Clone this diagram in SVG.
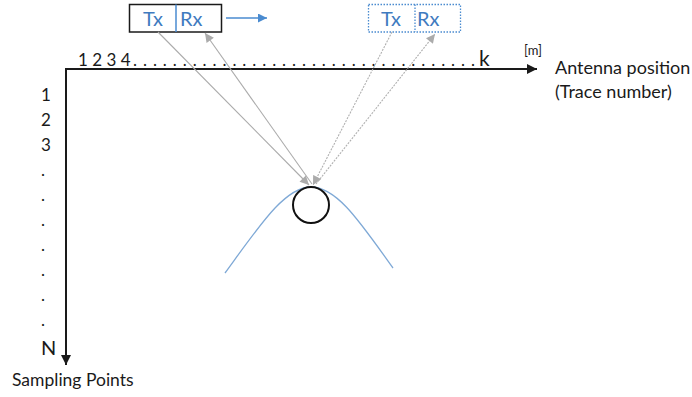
<svg xmlns="http://www.w3.org/2000/svg" width="692" height="397" viewBox="0 0 692 397">
  <style>
    text { font-family: Lato, "Open Sans", "Liberation Sans", sans-serif; fill: #1a1a1a; }
    .lbl { font-size: 17px; }
    .ant { font-size: 20px; fill: #3f7bbf; }
    .axis { stroke: #1a1a1a; stroke-width: 2; fill: none; }
    .ray { stroke: #ababab; stroke-width: 1.1; fill: none; }
    .ray2 { stroke: #b0b0b0; stroke-width: 1.1; fill: none; stroke-dasharray: 2 1.2; }
  </style>
  <defs>
    <marker id="headBlack" viewBox="0 0 10 10" refX="10" refY="5" markerWidth="10" markerHeight="10" markerUnits="userSpaceOnUse" orient="auto">
      <path d="M0,0 L10,5 L0,10 Z" fill="#1a1a1a"/>
    </marker>
    <marker id="headGray" viewBox="0 0 10 10" refX="10" refY="5" markerWidth="10" markerHeight="9" markerUnits="userSpaceOnUse" orient="auto">
      <path d="M0,0 L10,5 L0,10 Z" fill="#ababab"/>
    </marker>
    <marker id="headBlue" viewBox="0 0 10 10" refX="10" refY="5" markerWidth="10" markerHeight="9" markerUnits="userSpaceOnUse" orient="auto">
      <path d="M0,0 L10,5 L0,10 Z" fill="#4a8bd0"/>
    </marker>
  </defs>

  <!-- axes -->
  <g id="axes">
    <path class="axis" d="M66,69 H537" marker-end="url(#headBlack)"/>
    <path class="axis" d="M66,68 V365" marker-end="url(#headBlack)"/>
    <text class="lbl" x="78" y="66">1 2 3 4</text>
    <text class="lbl" x="133" y="66" textLength="342" lengthAdjust="spacing">...................................</text>
    <text x="479" y="66" style="font-size:21px">k</text>
    <text x="524" y="55" style="font-size:13px">[m]</text>
    <text x="555" y="74" style="font-size:18px">Antenna position</text>
    <text x="555" y="98" style="font-size:18px">(Trace number)</text>
    <g class="lbl">
      <text class="lbl" x="41" y="101">1</text>
      <text class="lbl" x="41" y="126">2</text>
      <text class="lbl" x="41" y="151">3</text>
      <text class="lbl" x="41" y="176">.</text>
      <text class="lbl" x="41" y="201">.</text>
      <text class="lbl" x="41" y="226">.</text>
      <text class="lbl" x="41" y="251">.</text>
      <text class="lbl" x="41" y="276">.</text>
      <text class="lbl" x="41" y="301">.</text>
      <text class="lbl" x="41" y="326">.</text>
    </g>
    <text x="41" y="355" style="font-size:20px">N</text>
    <text x="12" y="386" style="font-size:17.5px">Sampling Points</text>
  </g>

  <!-- antenna at first position -->
  <g id="antenna1">
    <rect x="129.5" y="4.5" width="92" height="27.5" fill="#fff" stroke="#1a1a1a" stroke-width="1.5"/>
    <line x1="176" y1="4.5" x2="176" y2="32" stroke="#4a8bd0" stroke-width="1.5"/>
    <text class="ant" x="143" y="26">Tx</text>
    <text class="ant" x="180" y="26">Rx</text>
  </g>

  <!-- antenna at later position -->
  <g id="antenna2">
    <rect x="368.5" y="4.5" width="92" height="27.5" fill="#fff" stroke="#4a8bd0" stroke-width="1.3" stroke-dasharray="1.5 1.5"/>
    <line x1="415" y1="4.5" x2="415" y2="32" stroke="#4a8bd0" stroke-width="1.3" stroke-dasharray="1.5 1.5"/>
    <text class="ant" x="381" y="26">Tx</text>
    <text class="ant" x="417" y="26">Rx</text>
  </g>

  <!-- buried target and its reflection hyperbola -->
  <g id="target">
    <path d="M225,273 C260,225 285,187 311,187 C337,187 360,222 393,268" fill="none" stroke="#7fa9d6" stroke-width="1.3"/>
    <circle cx="311" cy="205" r="18" fill="none" stroke="#111" stroke-width="2"/>
  </g>

  <!-- connectors -->
  <g id="connectors">
    <path d="M226,18 H267" stroke="#4a8bd0" stroke-width="1.5" fill="none" marker-end="url(#headBlue)"/>
    <path class="ray" d="M158,32 L309,185" marker-end="url(#headGray)"/>
    <path class="ray" d="M312,184 L205,33" marker-end="url(#headGray)"/>
    <path class="ray2" d="M392,32 L313,185" marker-end="url(#headGray)"/>
    <path class="ray2" d="M316,184 L435,34" marker-end="url(#headGray)"/>
  </g>
</svg>
